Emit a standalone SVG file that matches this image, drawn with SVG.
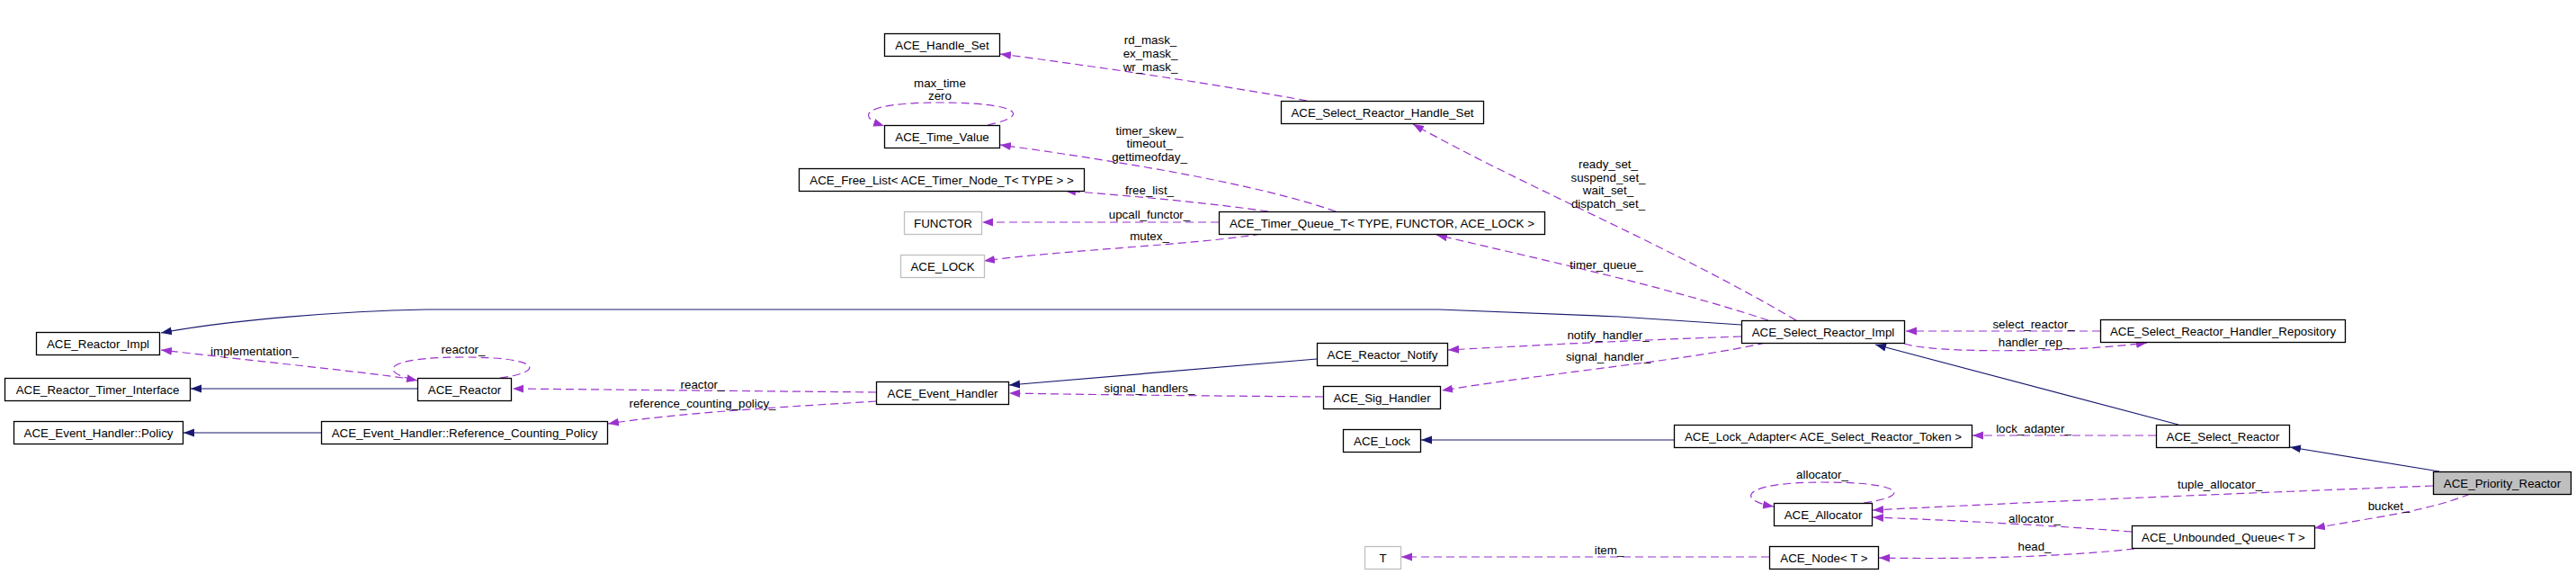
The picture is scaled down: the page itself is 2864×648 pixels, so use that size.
<svg xmlns="http://www.w3.org/2000/svg" width="2864" height="648" viewBox="0 0 2864 648">
<style>
text{font-family:"Liberation Sans",Arial,Helvetica,sans-serif;font-size:13.33px;fill:#000;text-anchor:middle}
.node rect{fill:#fff;stroke:#000;stroke-width:1.3}
.node.ext rect{stroke:#bfbfbf}
.node.main rect{fill:#bfbfbf}
.u{fill:none;stroke:#9a32cd;stroke-width:1.2;stroke-dasharray:9,5;marker-end:url(#ap)}
.i{fill:none;stroke:#191970;stroke-width:1.2;marker-end:url(#an)}
</style>
<defs>
<marker id="ap" markerUnits="userSpaceOnUse" markerWidth="14" markerHeight="10" refX="12" refY="5" orient="auto"><path d="M0,0.5 L12,5 L0,9.5 z" fill="#9a32cd" stroke="none"/></marker>
<marker id="an" markerUnits="userSpaceOnUse" markerWidth="14" markerHeight="10" refX="12" refY="5" orient="auto"><path d="M0,0.5 L12,5 L0,9.5 z" fill="#191970" stroke="none"/></marker>
</defs>
<rect x="0" y="0" width="2864" height="648" fill="#fff"/>
<g id="connectors">
<g><path class="u" d="M1453,112 C1360,95 1220,74 1112,60"/><text x="1279" y="49">rd_mask_</text><text x="1279" y="64">ex_mask_</text><text x="1279" y="79">wr_mask_</text></g>
<g><path class="u" d="M1098,139 C1150,128 1130,114 1045,114 C960,114 950,129 983,140"/><text x="1045" y="97">max_time</text><text x="1045" y="111">zero</text></g>
<g><path class="u" d="M1485,235 C1400,205 1250,180 1112,161"/><text x="1278" y="150">timer_skew_</text><text x="1278" y="164">timeout_</text><text x="1278" y="179">gettimeofday_</text></g>
<g><path class="u" d="M1410,235 C1340,225 1260,218 1184,212"/><text x="1278" y="216">free_list_</text></g>
<g><path class="u" d="M1355,247 L1092,247"/><text x="1278" y="243">upcall_functor_</text></g>
<g><path class="u" d="M1402,260 C1330,272 1180,278 1094,290"/><text x="1278" y="267">mutex_</text></g>
<g><path class="u" d="M1997,356 C1850,270 1700,210 1571,138"/><text x="1788" y="187">ready_set_</text><text x="1788" y="202">suspend_set_</text><text x="1788" y="216">wait_set_</text><text x="1788" y="231">dispatch_set_</text></g>
<g><path class="u" d="M1966,356 C1850,318 1720,290 1597,261"/><text x="1786" y="299">timer_queue_</text></g>
<g><path class="i" d="M1936,361 L1800,352 L1600,344 L474,344 C380,346 260,355 179,370"/></g>
<g><path class="u" d="M1936,374 C1820,378 1720,383 1610,389"/><text x="1788" y="377">notify_handler_</text></g>
<g><path class="u" d="M1963,381 C1880,400 1740,412 1603,434"/><text x="1788" y="401">signal_handler_</text></g>
<g><path class="u" d="M2335,368 L2119,368"/><text x="2261" y="365">select_reactor_</text></g>
<g><path class="u" d="M2117,382 C2150,393 2300,392 2387,381"/><text x="2261" y="385">handler_rep_</text></g>
<g><path class="i" d="M2422,472 L2085,383"/></g>
<g><path class="u" d="M2397,484 L2193,484"/><text x="2261" y="481">lock_adapter_</text></g>
<g><path class="i" d="M1861,489 L1580,489"/></g>
<g><path class="i" d="M2712,524 L2546,497"/></g>
<g><path class="u" d="M2072,559 C2125,552 2120,536 2027,536 C1935,536 1930,556 1972,563"/><text x="2026" y="532">allocator_</text></g>
<g><path class="u" d="M2705,540 C2500,548 2300,556 2082,567"/><text x="2468" y="543">tuple_allocator_</text></g>
<g><path class="u" d="M2370,591 C2280,584 2170,578 2082,575"/><text x="2262" y="581">allocator_</text></g>
<g><path class="u" d="M2746,549 C2700,568 2640,575 2573,587"/><text x="2656" y="567">bucket_</text></g>
<g><path class="u" d="M2373,610 C2300,618 2200,622 2089,620"/><text x="2262" y="612">head_</text></g>
<g><path class="u" d="M1967,619 L1558,619"/><text x="1789" y="616">item_</text></g>
<g><path class="i" d="M1464,399 L1122,428"/></g>
<g><path class="u" d="M1471,441 C1350,440 1230,439 1122,437"/><text x="1278" y="436">signal_handlers_</text></g>
<g><path class="u" d="M974,436 L570,432"/><text x="781" y="432">reactor_</text></g>
<g><path class="u" d="M974,446 C880,452 760,458 676,471"/><text x="781" y="453">reference_counting_policy_</text></g>
<g><path class="u" d="M556,420 C605,414 605,397 515,397 C425,397 420,414 464,423"/><text x="515" y="393">reactor_</text></g>
<g><path class="u" d="M462,422 C410,414 290,402 179,389"/><text x="283" y="395">implementation_</text></g>
<g><path class="i" d="M464,432 L212,432"/></g>
<g><path class="i" d="M357,481 L204,481"/></g>
</g>
<g id="n_handle_set" class="node"><rect x="983.5" y="37.5" width="128" height="25"/><text x="1047.5" y="54.5">ACE_Handle_Set</text></g>
<g id="n_time_value" class="node"><rect x="983.5" y="139.5" width="128" height="25"/><text x="1047.5" y="156.5">ACE_Time_Value</text></g>
<g id="n_free_list" class="node"><rect x="888.5" y="187.5" width="317" height="25"/><text x="1047" y="204.5">ACE_Free_List&lt; ACE_Timer_Node_T&lt; TYPE &gt; &gt;</text></g>
<g id="n_functor" class="node ext"><rect x="1005.5" y="235.5" width="86" height="25"/><text x="1048.5" y="252.5">FUNCTOR</text></g>
<g id="n_ace_lock_t" class="node ext"><rect x="1001.5" y="283.5" width="93" height="25"/><text x="1048" y="300.5">ACE_LOCK</text></g>
<g id="n_srhs" class="node"><rect x="1424.5" y="112.5" width="225" height="25"/><text x="1537" y="129.5">ACE_Select_Reactor_Handle_Set</text></g>
<g id="n_timer_queue" class="node"><rect x="1355.5" y="235.5" width="362" height="25"/><text x="1536.5" y="252.5">ACE_Timer_Queue_T&lt; TYPE, FUNCTOR, ACE_LOCK &gt;</text></g>
<g id="n_reactor_impl" class="node"><rect x="40.5" y="369.5" width="137" height="25"/><text x="109" y="386.5">ACE_Reactor_Impl</text></g>
<g id="n_rti" class="node"><rect x="5.5" y="420.5" width="206" height="25"/><text x="108.5" y="437.5">ACE_Reactor_Timer_Interface</text></g>
<g id="n_reactor" class="node"><rect x="464.5" y="420.5" width="104" height="25"/><text x="516.5" y="437.5">ACE_Reactor</text></g>
<g id="n_policy" class="node"><rect x="15.5" y="468.5" width="188" height="25"/><text x="109.5" y="485.5">ACE_Event_Handler::Policy</text></g>
<g id="n_rcp" class="node"><rect x="357.5" y="468.5" width="318" height="25"/><text x="516.5" y="485.5">ACE_Event_Handler::Reference_Counting_Policy</text></g>
<g id="n_event_handler" class="node"><rect x="974.5" y="424.5" width="147" height="25"/><text x="1048" y="441.5">ACE_Event_Handler</text></g>
<g id="n_notify" class="node"><rect x="1464.5" y="381.5" width="145" height="25"/><text x="1537" y="398.5">ACE_Reactor_Notify</text></g>
<g id="n_sig_handler" class="node"><rect x="1471.5" y="429.5" width="130" height="25"/><text x="1536.5" y="446.5">ACE_Sig_Handler</text></g>
<g id="n_lock" class="node"><rect x="1493.5" y="477.5" width="86" height="25"/><text x="1536.5" y="494.5">ACE_Lock</text></g>
<g id="n_t" class="node ext"><rect x="1517.5" y="607.5" width="40" height="25"/><text x="1537.5" y="624.5">T</text></g>
<g id="n_sri" class="node"><rect x="1936.5" y="356.5" width="181" height="25"/><text x="2027" y="373.5">ACE_Select_Reactor_Impl</text></g>
<g id="n_lock_adapter" class="node"><rect x="1861.5" y="472.5" width="331" height="25"/><text x="2027" y="489.5">ACE_Lock_Adapter&lt; ACE_Select_Reactor_Token &gt;</text></g>
<g id="n_allocator" class="node"><rect x="1972.5" y="559.5" width="109" height="25"/><text x="2027" y="576.5">ACE_Allocator</text></g>
<g id="n_node" class="node"><rect x="1967.5" y="607.5" width="121" height="25"/><text x="2028" y="624.5">ACE_Node&lt; T &gt;</text></g>
<g id="n_srhr" class="node"><rect x="2335.5" y="355.5" width="272" height="25"/><text x="2471.5" y="372.5">ACE_Select_Reactor_Handler_Repository</text></g>
<g id="n_select_reactor" class="node"><rect x="2397.5" y="472.5" width="148" height="25"/><text x="2471.5" y="489.5">ACE_Select_Reactor</text></g>
<g id="n_uq" class="node"><rect x="2370.5" y="584.5" width="203" height="25"/><text x="2472" y="601.5">ACE_Unbounded_Queue&lt; T &gt;</text></g>
<g id="n_priority" class="node main"><rect x="2705.5" y="524.5" width="153" height="25"/><text x="2782" y="541.5">ACE_Priority_Reactor</text></g>
</svg>
